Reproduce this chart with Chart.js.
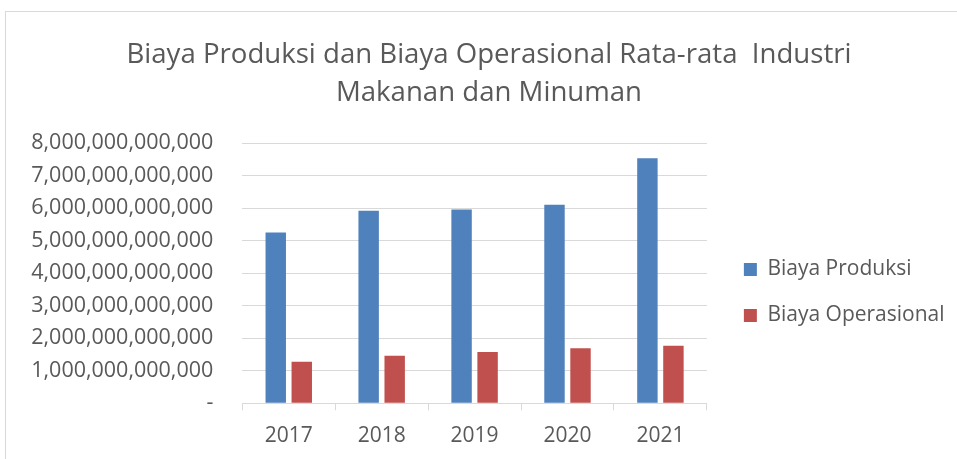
<!DOCTYPE html>
<html>
<head>
<meta charset="utf-8">
<script src="https://cdn.jsdelivr.net/npm/chart.js@4.4.1/dist/chart.umd.min.js"></script>
<style>
  html, body { margin: 0; padding: 0; background: #fff; }
  #wrap { position: relative; width: 957px; height: 459px; overflow: hidden; }
  #frame { position: absolute; left: 5px; top: 11px; width: 1000px; height: 500px;
           border-top: 1px solid #d9d9d9; border-left: 1px solid #d9d9d9; }
  canvas { position: absolute; left: 0; top: 0; }
</style>
</head>
<body>
<div id="wrap">
  <div id="frame"></div>
  <canvas id="c" width="957" height="459"></canvas>
</div>
<script>
const categories = ['2017', '2018', '2019', '2020', '2021'];
const biayaProduksi = [5.25e12, 5.92e12, 5.96e12, 6.10e12, 7.53e12];
const biayaOperasional = [1.28e12, 1.46e12, 1.58e12, 1.69e12, 1.77e12];
const seriesNames = ['Biaya Produksi', 'Biaya Operasional'];
const titleLines = ['Biaya Produksi dan Biaya Operasional Rata-rata  Industri', 'Makanan dan Minuman'];
const yMax = 8e12;
const yStep = 1e12;

const FONT = "'Open Sans', 'Segoe UI', sans-serif";
const TEXT = '#595959';
const GRID = '#d9d9d9';

const boxNudge = {
  id: 'boxNudge',
  afterLayout(chart) {
    const lg = chart.legend;
    if (lg) {
      lg.left += 12; lg.right += 12;
      lg.top += 63; lg.bottom += 63;
    }
    const tb = chart.titleBlock;
    if (tb) { tb.left += 7.75; tb.right += 7.75; }
  }
};

new Chart(document.getElementById('c'), {
  type: 'bar',
  data: {
    labels: categories,
    datasets: [
      { label: seriesNames[0], data: biayaProduksi, backgroundColor: '#4F81BD',
        categoryPercentage: 0.56, barPercentage: 0.785 },
      { label: seriesNames[1], data: biayaOperasional, backgroundColor: '#C0504D',
        categoryPercentage: 0.56, barPercentage: 0.785 }
    ]
  },
  options: {
    responsive: false,
    animation: false,
    devicePixelRatio: 1,
    layout: { padding: { left: 30, right: 24.5, top: 0, bottom: 0 } },
    plugins: {
      tooltip: { enabled: false },
      title: {
        display: true,
        text: titleLines,
        color: TEXT,
        font: { family: FONT, size: 27.6, weight: 'normal', lineHeight: '38px' },
        padding: { top: 36, bottom: 31 }
      },
      legend: {
        position: 'right',
        labels: {
          boxWidth: 13, boxHeight: 13, padding: 25, color: TEXT,
          font: { family: FONT, size: 21 }
        }
      }
    },
    scales: {
      x: {
        afterFit(scale) { scale.height = 55.7; },
        grid: { drawOnChartArea: false, drawTicks: true, tickLength: 7, color: GRID, offset: true },
        border: { display: true, color: GRID, width: 1 },
        ticks: { color: TEXT, font: { family: FONT, size: 21 }, padding: 13.5, maxRotation: 0, minRotation: 0 }
      },
      y: {
        min: 0, max: yMax,
        afterFit(scale) { scale.width = 212.3; },
        grid: { color: GRID, drawTicks: false },
        border: { display: false },
        ticks: {
          stepSize: yStep, color: TEXT, padding: 29,
          font: { family: FONT, size: 21.5 },
          callback: v => v === 0 ? '-' : Number(v).toLocaleString('en-US')
        }
      }
    }
  },
  plugins: [boxNudge]
});
</script>
</body>
</html>
